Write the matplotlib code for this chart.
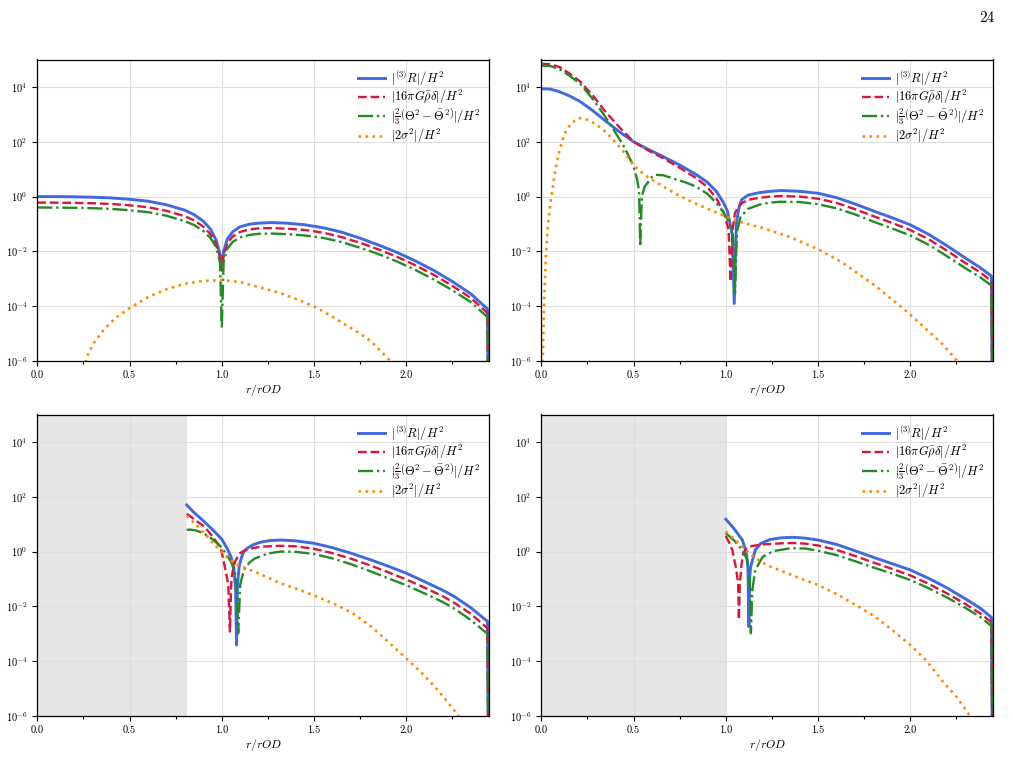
import numpy as np
import matplotlib
matplotlib.use("Agg")
import matplotlib.pyplot as plt
from matplotlib.ticker import MultipleLocator, LogLocator, NullLocator, LogFormatterSciNotation, FormatStrFormatter

plt.rcParams['font.family'] = 'serif'
plt.rcParams['font.serif'] = ['cmr10', 'DejaVu Serif']
plt.rcParams['mathtext.fontset'] = 'cm'
plt.rcParams['axes.formatter.use_mathtext'] = True
plt.rcParams['axes.unicode_minus'] = False

# ---------------- data (log10 of each quantity) ----------------
labels = [r'$|^{(3)}R|/H^2$',
          r'$|16\pi G\bar{\rho}\delta|/H^2$',
          r'$|\frac{2}{3}\left(\Theta^2-\bar{\Theta}^2\right)|/H^2$',
          r'$|2\sigma^2|/H^2$']
x_ticks = [0.0, 0.5, 1.0, 1.5, 2.0]
x_max = 2.45
excised = [None, None, 0.81, 1.0]   # shaded (excluded) region per panel
page_number = '24'

# Panel 1 (top-left)
p1_r_blue = [0, 0.1, 0.2, 0.3, 0.4, 0.5, 0.6, 0.7, 0.8, 0.85, 0.9, 0.94, 0.97, 0.99, 1.0, 1.01, 1.03, 1.06, 1.1, 1.15, 1.2, 1.27, 1.35, 1.45, 1.55, 1.65, 1.75, 1.85, 1.95, 2.05, 2.15, 2.25, 2.35, 2.44, 2.45]
p1_blue = [0.0, -0.003, -0.01, -0.025, -0.05, -0.1, -0.17, -0.3, -0.5, -0.66, -0.9, -1.2, -1.6, -2.1, -2.5, -2.0, -1.55, -1.28, -1.1, -1.01, -0.97, -0.95, -0.97, -1.03, -1.14, -1.3, -1.52, -1.77, -2.04, -2.35, -2.7, -3.1, -3.55, -4.1, -12]
p1_r_red = p1_r_blue
p1_red = [-0.22, -0.223, -0.23, -0.245, -0.27, -0.32, -0.39, -0.52, -0.72, -0.87, -1.1, -1.38, -1.75, -2.2, -2.7, -2.15, -1.7, -1.45, -1.29, -1.2, -1.16, -1.15, -1.17, -1.22, -1.32, -1.48, -1.69, -1.93, -2.2, -2.51, -2.86, -3.26, -3.7, -4.25, -12]
p1_r_green = p1_r_blue
p1_green = [-0.40, -0.403, -0.41, -0.425, -0.45, -0.5, -0.57, -0.7, -0.9, -1.04, -1.26, -1.52, -1.85, -2.4, -4.8, -2.4, -1.9, -1.65, -1.49, -1.4, -1.36, -1.35, -1.37, -1.42, -1.51, -1.66, -1.87, -2.1, -2.37, -2.68, -3.03, -3.42, -3.85, -4.4, -12]
p1_r_orange = [0.25, 0.27, 0.3, 0.36, 0.42, 0.5, 0.6, 0.7, 0.8, 0.9, 1.0, 1.1, 1.2, 1.32, 1.42, 1.5, 1.6, 1.67, 1.75, 1.81, 1.9, 1.95]
p1_orange = [-6.3, -5.84, -5.4, -4.86, -4.45, -4.07, -3.67, -3.38, -3.18, -3.08, -3.05, -3.12, -3.3, -3.53, -3.78, -4.01, -4.38, -4.68, -5.0, -5.29, -5.9, -6.3]

# Panel 2 (top-right)
p2_r_blue = [0, 0.05, 0.1, 0.15, 0.21, 0.28, 0.34, 0.42, 0.5, 0.58, 0.66, 0.75, 0.84, 0.9, 0.95, 0.99, 1.01, 1.035, 1.046, 1.057, 1.07, 1.085, 1.12, 1.18, 1.24, 1.3, 1.4, 1.5, 1.6, 1.7, 1.81, 1.9, 2.0, 2.1, 2.2, 2.3, 2.38, 2.44, 2.45]
p2_blue = [3.93, 3.92, 3.82, 3.68, 3.47, 3.13, 2.8, 2.38, 2.0, 1.72, 1.46, 1.15, 0.8, 0.52, 0.18, -0.25, -0.55, -1.4, -3.9, -1.0, -0.45, -0.12, 0.05, 0.14, 0.19, 0.22, 0.19, 0.12, -0.04, -0.27, -0.55, -0.77, -1.03, -1.38, -1.8, -2.25, -2.6, -2.9, -12]
p2_r_red = [0, 0.05, 0.1, 0.15, 0.21, 0.28, 0.34, 0.42, 0.5, 0.58, 0.66, 0.75, 0.84, 0.9, 0.95, 0.99, 1.015, 1.026, 1.037, 1.05, 1.07, 1.085, 1.12, 1.18, 1.24, 1.3, 1.4, 1.5, 1.6, 1.7, 1.81, 1.9, 2.0, 2.1, 2.2, 2.3, 2.38, 2.44, 2.45]
p2_red = [4.84, 4.83, 4.72, 4.5, 4.2, 3.68, 3.16, 2.55, 2.0, 1.68, 1.4, 1.05, 0.67, 0.35, -0.08, -0.6, -1.2, -3.1, -1.2, -0.6, -0.35, -0.25, -0.12, -0.05, 0.0, 0.02, 0.0, -0.08, -0.23, -0.46, -0.74, -0.96, -1.22, -1.56, -1.98, -2.43, -2.77, -3.08, -12]
p2_r_green = [0, 0.05, 0.1, 0.15, 0.21, 0.28, 0.34, 0.4, 0.45, 0.49, 0.5, 0.52, 0.53, 0.536, 0.545, 0.56, 0.6, 0.62, 0.66, 0.71, 0.78, 0.84, 0.9, 0.95, 0.99, 1.02, 1.04, 1.05, 1.06, 1.08, 1.12, 1.18, 1.24, 1.3, 1.4, 1.5, 1.6, 1.7, 1.81, 1.9, 2.0, 2.1, 2.2, 2.3, 2.38, 2.44, 2.45]
p2_green = [4.78, 4.76, 4.64, 4.42, 4.12, 3.55, 2.98, 2.35, 1.8, 1.25, 1.1, 0.61, 0.2, -1.82, 0.0, 0.36, 0.72, 0.79, 0.78, 0.67, 0.52, 0.36, 0.1, -0.24, -0.6, -0.95, -1.5, -3.53, -1.3, -0.75, -0.45, -0.3, -0.22, -0.19, -0.2, -0.28, -0.43, -0.65, -0.94, -1.16, -1.42, -1.76, -2.18, -2.62, -2.95, -3.25, -12]
p2_r_orange = [0.006, 0.008, 0.012, 0.016, 0.024, 0.035, 0.05, 0.062, 0.074, 0.089, 0.1, 0.12, 0.14, 0.165, 0.19, 0.21, 0.25, 0.3, 0.35, 0.39, 0.45, 0.5, 0.54, 0.57, 0.66, 0.75, 0.84, 0.99, 1.09, 1.2, 1.35, 1.5, 1.63, 1.81, 1.99, 2.17, 2.25, 2.28]
p2_orange = [-6.3, -5.96, -4.8, -3.77, -2.31, -1.09, -0.2, 0.3, 0.9, 1.4, 1.72, 2.19, 2.47, 2.68, 2.82, 2.86, 2.8, 2.62, 2.35, 2.07, 1.6, 1.15, 0.9, 0.75, 0.37, 0.02, -0.27, -0.7, -0.95, -1.15, -1.48, -1.92, -2.4, -3.25, -4.25, -5.35, -5.96, -6.3]

# Panel 3 (bottom-left)
p3_r_blue = [0.81, 0.85, 0.9, 0.95, 1.0, 1.03, 1.05, 1.065, 1.075, 1.08, 1.085, 1.095, 1.11, 1.12, 1.14, 1.17, 1.21, 1.26, 1.32, 1.4, 1.5, 1.6, 1.7, 1.81, 1.9, 2.0, 2.1, 2.2, 2.26, 2.35, 2.44, 2.45]
p3_blue = [1.7, 1.42, 1.12, 0.8, 0.45, 0.1, -0.19, -0.6, -1.4, -3.41, -1.2, -0.5, -0.15, 0.0, 0.13, 0.25, 0.34, 0.4, 0.42, 0.39, 0.3, 0.14, -0.06, -0.31, -0.53, -0.79, -1.1, -1.42, -1.64, -2.05, -2.55, -12]
p3_r_red = [0.81, 0.85, 0.905, 0.95, 0.995, 1.02, 1.035, 1.044, 1.052, 1.065, 1.076, 1.1, 1.13, 1.17, 1.22, 1.32, 1.4, 1.5, 1.6, 1.7, 1.81, 1.9, 2.0, 2.1, 2.2, 2.26, 2.35, 2.44, 2.45]
p3_red = [1.38, 1.18, 0.91, 0.55, 0.12, -0.67, -1.2, -2.92, -1.0, -0.5, -0.31, -0.05, 0.06, 0.13, 0.18, 0.21, 0.19, 0.1, -0.06, -0.26, -0.52, -0.75, -1.02, -1.32, -1.64, -1.87, -2.27, -2.8, -12]
p3_r_green = [0.81, 0.83, 0.86, 0.9, 0.95, 1.0, 1.05, 1.07, 1.08, 1.089, 1.1, 1.12, 1.15, 1.18, 1.25, 1.32, 1.4, 1.5, 1.6, 1.7, 1.81, 1.9, 2.0, 2.1, 2.2, 2.26, 2.35, 2.44, 2.45]
p3_green = [0.79, 0.8, 0.77, 0.67, 0.45, 0.15, -0.37, -0.7, -1.2, -2.98, -1.2, -0.67, -0.4, -0.25, -0.07, 0.0, -0.01, -0.09, -0.25, -0.46, -0.73, -0.97, -1.23, -1.53, -1.85, -2.08, -2.5, -3.0, -12]
p3_r_orange = [0.81, 0.86, 0.905, 0.95, 0.995, 1.04, 1.085, 1.176, 1.25, 1.32, 1.41, 1.5, 1.63, 1.72, 1.81, 1.9, 2.0, 2.09, 2.17, 2.28, 2.31]
p3_orange = [1.3, 0.98, 0.67, 0.33, 0.0, -0.28, -0.49, -0.73, -0.95, -1.16, -1.37, -1.6, -1.97, -2.3, -2.74, -3.28, -3.9, -4.47, -5.05, -5.96, -6.3]

# Panel 4 (bottom-right)
p4_r_blue = [1.0, 1.043, 1.09, 1.112, 1.12, 1.125, 1.13, 1.135, 1.16, 1.19, 1.24, 1.3, 1.36, 1.43, 1.5, 1.6, 1.7, 1.8, 1.9, 2.0, 2.1, 2.2, 2.3, 2.38, 2.44, 2.45]
p4_blue = [1.18, 0.85, 0.42, -0.06, -0.6, -2.74, -0.9, -0.55, 0.06, 0.3, 0.44, 0.5, 0.52, 0.49, 0.42, 0.26, 0.03, -0.21, -0.44, -0.67, -0.98, -1.33, -1.73, -2.07, -2.4, -12]
p4_r_red = [1.0, 1.02, 1.035, 1.054, 1.067, 1.071, 1.076, 1.085, 1.094, 1.11, 1.14, 1.2, 1.3, 1.36, 1.43, 1.5, 1.6, 1.7, 1.8, 1.9, 2.0, 2.1, 2.2, 2.3, 2.38, 2.44, 2.45]
p4_red = [0.57, 0.3, 0.06, -0.55, -1.16, -2.49, -1.2, -0.5, -0.06, 0.1, 0.2, 0.26, 0.3, 0.31, 0.29, 0.22, 0.06, -0.16, -0.4, -0.63, -0.87, -1.18, -1.53, -1.92, -2.26, -2.58, -12]
p4_r_green = [1.0, 1.043, 1.09, 1.116, 1.13, 1.136, 1.144, 1.16, 1.2, 1.26, 1.35, 1.43, 1.5, 1.6, 1.7, 1.8, 1.9, 2.0, 2.1, 2.2, 2.3, 2.38, 2.44, 2.45]
p4_green = [0.67, 0.42, 0.06, -0.3, -1.16, -2.98, -1.4, -0.67, -0.19, 0.02, 0.12, 0.11, 0.03, -0.13, -0.35, -0.58, -0.8, -1.04, -1.34, -1.68, -2.06, -2.39, -2.72, -12]
p4_r_orange = [1.0, 1.043, 1.09, 1.136, 1.22, 1.31, 1.4, 1.5, 1.6, 1.72, 1.81, 1.9, 2.0, 2.09, 2.17, 2.25, 2.32, 2.35]
p4_orange = [0.73, 0.48, 0.18, -0.12, -0.49, -0.73, -0.97, -1.22, -1.55, -2.01, -2.38, -2.85, -3.41, -4.0, -4.69, -5.3, -5.96, -6.3]

panels = [
    [(p1_r_blue, p1_blue), (p1_r_red, p1_red), (p1_r_green, p1_green), (p1_r_orange, p1_orange)],
    [(p2_r_blue, p2_blue), (p2_r_red, p2_red), (p2_r_green, p2_green), (p2_r_orange, p2_orange)],
    [(p3_r_blue, p3_blue), (p3_r_red, p3_red), (p3_r_green, p3_green), (p3_r_orange, p3_orange)],
    [(p4_r_blue, p4_blue), (p4_r_red, p4_red), (p4_r_green, p4_green), (p4_r_orange, p4_orange)],
]

# ---------------- styling ----------------
colors = ['royalblue', 'crimson', 'forestgreen', 'darkorange']
styles = ['-', '--', '-.', ':']
widths = [2.1, 1.7, 1.7, 1.9]

W, H = 1013, 758
fig = plt.figure(figsize=(W / 100, H / 100), dpi=100)
ax_w = 452 / W
ax_h = 301.5 / H
lefts = [37.3 / W, 541.3 / W]
bottoms = [1 - 361 / H, 1 - 716 / H]
positions = [(lefts[0], bottoms[0]), (lefts[1], bottoms[0]), (lefts[0], bottoms[1]), (lefts[1], bottoms[1])]

for i, (pos, series) in enumerate(zip(positions, panels)):
    ax = fig.add_axes([pos[0], pos[1], ax_w, ax_h])
    if excised[i] is not None:
        ax.axvspan(0, excised[i], color='#e6e6e6', lw=0, zorder=0.5)
    for (r, lv), c, ls, lw, lab in zip(series, colors, styles, widths, labels):
        ax.plot(r, 10.0 ** np.asarray(lv), color=c, ls=ls, lw=lw, label=lab, zorder=2)
    ax.set_yscale('log')
    ax.set_ylim(1e-6, 1e5)
    ax.set_xlim(0, x_max)
    ax.set_xticks(x_ticks)
    ax.xaxis.set_minor_locator(MultipleLocator(0.25))
    ax.xaxis.set_major_formatter(FormatStrFormatter('%.1f'))
    ax.yaxis.set_major_locator(LogLocator(base=100.0, numticks=20))
    ax.yaxis.set_minor_locator(NullLocator())
    ax.yaxis.set_major_formatter(LogFormatterSciNotation(base=10))
    ax.grid(True, which='major', color='#dedede', lw=0.8)
    ax.tick_params(which='both', direction='out', labelsize=7.5, width=0.8)
    ax.tick_params(which='major', length=3.5)
    ax.tick_params(which='minor', length=2.2)
    for s in ax.spines.values():
        s.set_linewidth(0.9)
    ax.set_xlabel(r'$r/rOD$', fontsize=8.5, labelpad=1)
    ax.legend(loc='upper right', frameon=False, fontsize=9, handlelength=2.15,
              handletextpad=0.45, labelspacing=0.02, borderaxespad=0.3, borderpad=0.4)

fig.text(0.982, 0.985, page_number, ha='right', va='top', fontsize=11)
fig.savefig('out.png', dpi=100)
